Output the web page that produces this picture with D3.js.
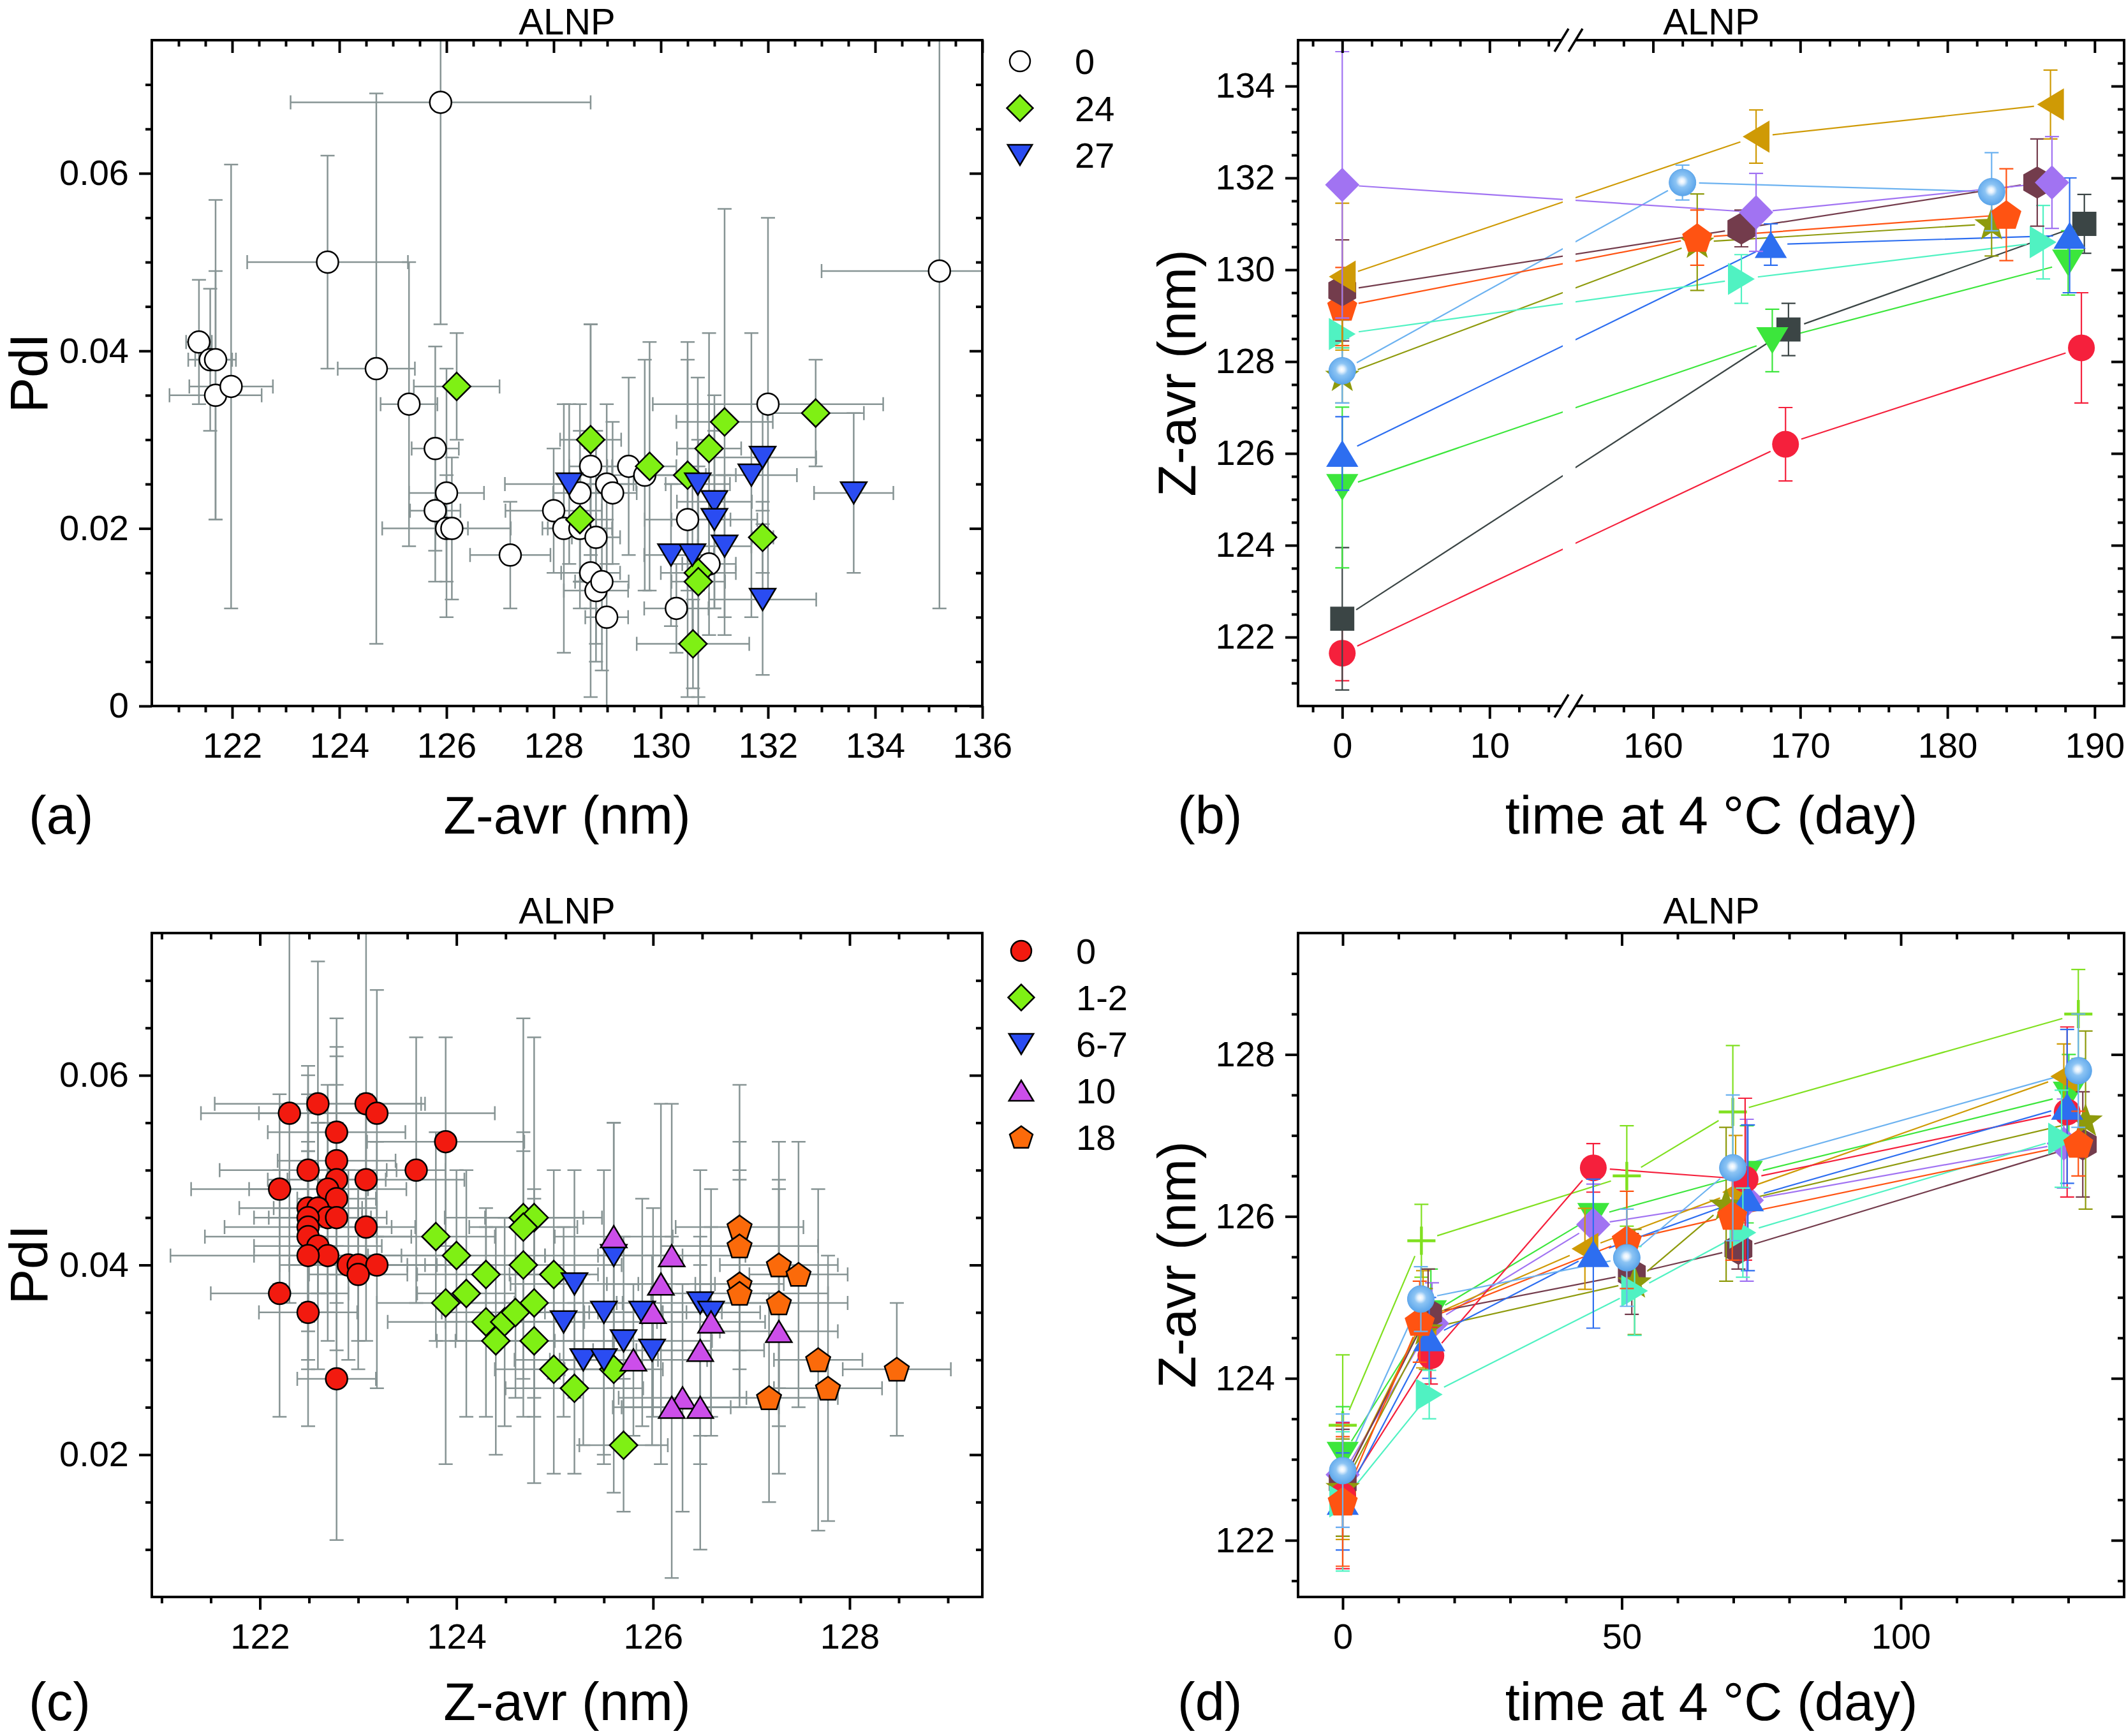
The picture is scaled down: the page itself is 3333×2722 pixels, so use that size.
<!DOCTYPE html>
<html><head><meta charset="utf-8">
<script src="https://cdnjs.cloudflare.com/ajax/libs/d3/7.8.5/d3.min.js"></script>
<style>body{margin:0;background:#fff}</style>
</head><body><script>
// ---------------- DATA ----------------
// Panel (a): [Z-avr, PdI, xErr, yErr]
const aLegend = ["0", "24", "27"];
const aWeek0 = [[121.38,0.041,0.24,0.007],[121.59,0.039,0.41,0.008],[121.69,0.039,0.38,0.018],[121.69,0.035,0.86,0.014],
[121.98,0.036,0.78,0.025],[123.78,0.050,1.50,0.012],[124.69,0.038,0.72,0.031],[125.89,0.068,2.80,0.025],[125.30,0.034,0.53,0.016],
[125.79,0.029,0.44,0.0115],[126.00,0.024,0.70,0.014],[125.79,0.022,0.47,0.008],[126.00,0.020,1.20,0.006],[126.10,0.020,0.30,0.008],
[127.19,0.017,0.75,0.006],[128.00,0.022,0.90,0.007],[128.19,0.020,0.40,0.014],[128.49,0.020,0.60,0.006],[128.49,0.024,0.50,0.010],
[128.69,0.027,0.40,0.016],[128.79,0.019,0.45,0.012],[128.69,0.015,0.55,0.014],[128.79,0.013,0.60,0.008],[128.90,0.014,0.50,0.010],
[128.99,0.010,0.40,0.011],[128.99,0.025,0.55,0.009],[129.10,0.024,0.45,0.008],[129.40,0.027,0.40,0.010],[129.70,0.026,1.20,0.013],
[130.29,0.011,0.60,0.005],[130.50,0.021,0.80,0.020],[130.90,0.016,0.50,0.008],[132.00,0.034,2.15,0.021],[135.20,0.049,2.20,0.038]];
const aWeek24 = [[126.19,0.036,0.80,0.006],[128.69,0.030,0.57,0.013],[128.49,0.021,0.30,0.010],[129.79,0.027,0.50,0.014],
[130.50,0.026,0.90,0.013],[130.90,0.029,0.60,0.013],[131.19,0.032,0.90,0.024],[132.89,0.033,0.90,0.006],[131.90,0.019,0.20,0.004],
[130.70,0.015,0.70,0.015],[130.70,0.014,0.50,0.013],[130.60,0.007,1.05,0.005]];
const aWeek27 = [[128.29,0.025,1.20,0.009],[130.69,0.025,0.60,0.012],[131.00,0.023,0.70,0.012],[131.00,0.021,0.80,0.010],
[131.19,0.018,0.50,0.008],[130.19,0.017,0.50,0.008],[130.59,0.017,0.40,0.010],[131.69,0.026,0.85,0.016],[131.90,0.028,1.00,0.006],
[133.60,0.024,0.74,0.009],[131.90,0.012,1.00,0.0085]];

// Panel (c): [Z-avr, PdI, xErr, yErr]
const cLegend = ["0", "1-2", "6-7", "10", "18"];
const cWeek0 = [[122.30,0.056,0.90,0.020],[122.59,0.057,1.05,0.015],[123.08,0.057,0.60,0.018],[123.19,0.056,1.20,0.013],
[122.78,0.054,0.70,0.012],[123.89,0.053,0.80,0.011],[122.78,0.051,0.60,0.012],[122.49,0.050,0.90,0.010],[123.59,0.050,0.30,0.014],
[122.20,0.048,0.90,0.010],[122.78,0.049,0.50,0.013],[123.08,0.049,1.00,0.009],[122.69,0.048,0.80,0.011],[122.78,0.047,0.40,0.008],
[122.49,0.046,0.70,0.012],[122.59,0.046,0.45,0.009],[122.69,0.045,0.60,0.010],[122.78,0.045,0.35,0.014],[122.49,0.045,0.55,0.016],
[122.49,0.044,0.85,0.008],[123.08,0.044,0.50,0.012],[122.49,0.043,1.05,0.010],[122.59,0.042,0.65,0.013],[122.69,0.041,0.75,0.009],
[122.49,0.041,1.40,0.011],[122.90,0.040,0.60,0.010],[123.00,0.040,0.80,0.008],[123.19,0.040,0.70,0.013],[123.00,0.039,0.50,0.010],
[122.20,0.037,0.70,0.013],[122.49,0.035,0.50,0.012],[122.78,0.028,0.40,0.017]];
const cWeek1_2 = [[123.79,0.043,0.60,0.011],[124.00,0.041,0.90,0.009],[124.30,0.039,0.70,0.007],[124.68,0.045,0.80,0.021],
[124.79,0.045,0.50,0.019],[124.68,0.044,0.55,0.010],[124.68,0.040,1.00,0.012],[124.99,0.039,0.45,0.011],[123.89,0.036,0.70,0.017],
[124.10,0.037,0.50,0.013],[124.79,0.036,0.90,0.012],[124.30,0.034,1.00,0.010],[124.49,0.034,0.60,0.011],[124.60,0.035,0.75,0.009],
[124.40,0.032,0.60,0.012],[124.79,0.032,0.80,0.015],[124.99,0.029,0.60,0.011],[125.20,0.027,0.70,0.009],[125.60,0.029,0.50,0.013],
[125.70,0.021,0.45,0.007]];
const cWeek6_7 = [[125.20,0.038,0.65,0.012],[125.60,0.041,0.70,0.014],[125.09,0.034,0.80,0.010],[125.50,0.035,0.60,0.015],
[125.89,0.035,0.45,0.012],[125.70,0.032,0.90,0.011],[125.29,0.030,0.70,0.009],[125.50,0.030,0.55,0.011],[125.99,0.031,0.60,0.010],
[126.48,0.036,0.85,0.014],[126.59,0.035,0.50,0.013]];
const cWeek10 = [[125.60,0.043,0.60,0.012],[126.19,0.041,0.75,0.016],[126.08,0.038,0.55,0.019],[126.00,0.035,0.70,0.011],
[126.59,0.034,0.55,0.010],[126.48,0.031,0.65,0.012],[125.80,0.030,0.75,0.008],[127.28,0.033,0.60,0.015],[126.30,0.026,0.65,0.012],
[126.19,0.025,0.60,0.018],[126.48,0.025,0.80,0.015]];
const cWeek18 = [[126.88,0.044,0.65,0.015],[126.88,0.042,0.80,0.011],[127.28,0.040,0.60,0.013],[127.48,0.039,0.50,0.014],
[126.88,0.038,0.45,0.012],[126.88,0.037,0.90,0.012],[127.28,0.036,0.70,0.013],[127.68,0.030,0.45,0.018],[128.48,0.029,0.55,0.007],
[127.78,0.027,0.55,0.014],[127.18,0.026,0.70,0.011]];

// Panel (b): per batch [day, Z-avr, err]
const bMarkers = ["circle","square","downTri","upTri","star","sphere","rightTri","pentagon","hexagon","leftTri","diamond"];
const bColors  = ["#f5203c","#3b4545","#3ce63c","#2d6ef0","#8e9a0c","#6cb2f0","#50f2c2","#ff5312","#733c4c","#cf9a05","#a173f2"];
const bData = [
 [[0,121.65,0.6],[169.0,126.2,0.8],[189.1,128.3,1.2]],
 [[0,122.4,1.55],[169.2,128.7,0.57],[189.3,131.0,0.64]],
 [[0,125.26,1.75],[168.1,128.46,0.68],[188.2,130.15,0.7]],
 [[0,126.0,0.8],[168.0,130.55,0.45],[188.3,130.75,1.25]],
 [[0,127.7,0.6],[163.0,130.6,1.05],[183.0,131.0,0.7]],
 [[0,127.8,0.7],[162.0,131.9,0.38],[183.0,131.7,0.85]],
 [[0,128.6,0.3],[166.0,129.8,0.53],[186.5,130.6,0.8]],
 [[0,129.2,0.85],[163.0,130.7,0.6],[184.0,131.2,1.0]],
 [[0,129.55,1.1],[166.0,130.9,0.4],[186.1,131.9,0.95]],
 [[0,129.85,1.6],[167.0,132.9,0.58],[187.0,133.6,0.75]],
 [[0,131.85,2.9],[167.0,131.25,0.85],[187.1,131.9,1.0]]
];
// Panel (d): per batch [day, Z-avr, err]
const dMarkers = ["plus","downTri","diamond","leftTri","hexagon","star","circle","upTri","rightTri","pentagon","sphere"];
const dColors  = ["#80e020","#3ce63c","#a173f2","#cf9a05","#733c4c","#8e9a0c","#f5203c","#2d6ef0","#50f2c2","#ff5312","#6cb2f0"];
const dData = [
 [[0,123.42,0.87],[14.1,125.7,0.45],[50.9,126.5,0.62],[69.9,127.29,0.82],[131.8,128.5,0.55]],
 [[0,123.05,0.6],[15.8,124.8,0.55],[44.9,126.0,0.5],[72.4,126.52,0.6],[130.1,127.5,0.5]],
 [[0,122.81,0.65],[16.0,124.68,0.5],[44.9,125.9,0.5],[72.4,126.2,1.0],[129.2,126.9,0.55]],
 [[0,122.71,0.7],[14.4,124.73,0.6],[43.4,125.6,0.5],[70.4,126.3,0.7],[129.2,127.73,0.4]],
 [[0,122.71,0.66],[15.3,124.8,0.55],[51.8,125.29,0.5],[70.9,125.6,0.25],[132.6,126.89,0.65]],
 [[0,122.65,0.6],[14.9,124.61,0.5],[52.3,125.19,0.65],[68.7,126.15,0.95],[133.1,127.19,1.1]],
 [[0,122.55,0.9],[15.8,124.28,0.35],[44.9,126.6,0.3],[72.1,126.46,1.0],[129.8,127.29,1.05]],
 [[0,122.48,0.6],[15.5,124.5,0.5],[44.9,125.54,0.92],[72.6,126.23,0.9],[129.8,127.36,0.95]],
 [[0,122.48,0.86],[15.5,123.8,0.3],[52.3,125.08,0.55],[71.7,125.8,0.55],[128.8,126.96,0.6]],
 [[0,122.48,0.8],[13.8,124.7,0.5],[50.9,125.71,0.6],[69.8,126.01,0.55],[131.8,126.9,0.4]],
 [[0,122.86,0.7],[14.0,124.98,0.4],[50.9,125.49,0.6],[69.9,126.6,0.9],[131.8,127.8,0.7]]
];
// tick labels
const aXTicks = [122,124,126,128,130,132,134,136];
const aYTicks = [0,0.02,0.04,0.06];
const bXTicks = [0,10,160,170,180,190];
const bYTicks = [122,124,126,128,130,132,134];
const cXTicks = [122,124,126,128];
const cYTicks = [0.02,0.04,0.06];
const dXTicks = [0,50,100];
const dYTicks = [122,124,126,128];

// ---------------- DRAWING ----------------
const FONT = '"Liberation Sans", Arial, Helvetica, sans-serif';
const W = 3333, H = 2722;
const svg = d3.select("body").append("svg").attr("width", W).attr("height", H).style("display","block");
svg.append("rect").attr("width", W).attr("height", H).attr("fill", "#fff");
const defs = svg.append("defs");
const grad = defs.append("radialGradient").attr("id","sph").attr("cx","48%").attr("cy","45%").attr("r","55%");
[["0%","#ffffff"],["18%","#e4f1fd"],["42%","#8cc4f4"],["100%","#5aa4ea"]].forEach(s=>grad.append("stop").attr("offset",s[0]).attr("stop-color",s[1]));

const PA = {x0:238, x1:1540, y0:63, y1:1107};
const PB = {x0:2035, x1:3330, y0:63, y1:1107};
const PC = {x0:238, x1:1540, y0:1463, y1:2504};
const PD = {x0:2035, x1:3330, y0:1463, y1:2504};

const xa = d3.scaleLinear().domain([120.5,136]).range([PA.x0,PA.x1]);
const ya = d3.scaleLinear().domain([0,0.075]).range([PA.y1,PA.y0]);
const BRK = 2460;
const xb = d3.scaleLinear().domain([-3,15.4,154.3,192]).range([PB.x0,BRK,BRK,PB.x1]);
const yb = d3.scaleLinear().domain([120.5,135]).range([PB.y1,PB.y0]);
const xc = d3.scaleLinear().domain([120.9,129.35]).range([PC.x0,PC.x1]);
const yc = d3.scaleLinear().domain([0.005,0.075]).range([PC.y1,PC.y0]);
const xd = d3.scaleLinear().domain([-8,140]).range([PD.x0,PD.x1]);
const yd = d3.scaleLinear().domain([121.3,129.5]).range([PD.y1,PD.y0]);

function symPath(type, s){
  const poly = (pts)=> "M" + pts.map(p=>p[0].toFixed(2)+","+p[1].toFixed(2)).join("L") + "Z";
  const w = s*1.2, h = s*1.0;
  switch(type){
    case "circle": case "sphere": return `M${-s},0A${s},${s} 0 1,0 ${s},0A${s},${s} 0 1,0 ${-s},0Z`;
    case "square": { const a = s*0.9; return poly([[-a,-a],[a,-a],[a,a],[-a,a]]); }
    case "diamond": { const a = s*1.28; return poly([[0,-a],[a,0],[0,a],[-a,0]]); }
    case "downTri": return poly([[-w,-h],[w,-h],[0,h]]);
    case "upTri": return poly([[-w,h],[w,h],[0,-h]]);
    case "leftTri": return poly([[h,-w],[h,w],[-h,0]]);
    case "rightTri": return poly([[-h,-w],[-h,w],[h,0]]);
    case "pentagon": { const r = s*1.18; return poly(d3.range(5).map(k=>{const a=(-90+72*k)*Math.PI/180; return [r*Math.cos(a), r*Math.sin(a)+s*0.1];})); }
    case "hexagon": { const r = s*1.2; return poly(d3.range(6).map(k=>{const a=(-90+60*k)*Math.PI/180; return [r*Math.cos(a), r*Math.sin(a)];})); }
    case "star": { const R = s*1.35, r = s*0.55; return poly(d3.range(10).map(k=>{const a=(-90+36*k)*Math.PI/180, rr = k%2?r:R; return [rr*Math.cos(a), rr*Math.sin(a)+s*0.08];})); }
    case "plus": { const a = s*1.05; return `M${-a},0H${a}M0,${-a}V${a}`; }
  }
}

function clip(id, P){
  defs.append("clipPath").attr("id",id).append("rect").attr("x",P.x0).attr("y",P.y0).attr("width",P.x1-P.x0).attr("height",P.y1-P.y0);
}
clip("ca",PA); clip("cb",PB); clip("cc",PC); clip("cd",PD);

function styleAxis(sel, labels){
  sel.attr("font-family", FONT).attr("font-size", 56);
  sel.select(".domain").remove();
  sel.selectAll(".tick line").attr("stroke","#000").attr("stroke-width",4);
  if(labels) sel.selectAll(".tick text").attr("fill","#000");
  else sel.selectAll(".tick text").remove();
}
function minorVals(lo, hi, step, majorStep){
  const out = [];
  const n0 = Math.ceil(lo/step - 1e-9), n1 = Math.floor(hi/step + 1e-9);
  for(let i=n0;i<=n1;i++){ const v = i*step; const r = v/majorStep; if(Math.abs(r-Math.round(r))>1e-6) out.push(+v.toFixed(6)); }
  return out;
}
function drawAxes(P, x, y, o){
  const g = svg.append("g");
  const add = (tr, ax, lab) => g.append("g").attr("transform", tr).call(ax).call(s=>styleAxis(s, lab));
  add(`translate(0,${P.y1})`, d3.axisBottom(x).tickValues(o.xMajor).tickSize(20).tickPadding(21).tickFormat(o.xFmt), true);
  add(`translate(0,${P.y1})`, d3.axisBottom(x).tickValues(o.xMinor).tickSize(10).tickFormat(""), false);
  add(`translate(0,${P.y0})`, d3.axisTop(x).tickValues(o.xMajor).tickSize(-20).tickFormat(""), false);
  add(`translate(0,${P.y0})`, d3.axisTop(x).tickValues(o.xMinor).tickSize(-10).tickFormat(""), false);
  add(`translate(${P.x0},0)`, d3.axisLeft(y).tickValues(o.yMajor).tickSize(20).tickPadding(16).tickFormat(o.yFmt), true);
  add(`translate(${P.x0},0)`, d3.axisLeft(y).tickValues(o.yMinor).tickSize(10).tickFormat(""), false);
  add(`translate(${P.x1},0)`, d3.axisRight(y).tickValues(o.yMajor).tickSize(-20).tickFormat(""), false);
  add(`translate(${P.x1},0)`, d3.axisRight(y).tickValues(o.yMinor).tickSize(-10).tickFormat(""), false);
  g.append("rect").attr("x",P.x0).attr("y",P.y0).attr("width",P.x1-P.x0).attr("height",P.y1-P.y0)
    .attr("fill","none").attr("stroke","#000").attr("stroke-width",4);
  return g;
}
function text(x, y, str, size, anchor, rot){
  const t = svg.append("text").attr("font-family",FONT).attr("font-size",size).attr("fill","#000")
    .attr("text-anchor",anchor||"middle").text(str);
  if(rot) t.attr("transform",`translate(${x},${y}) rotate(${rot})`);
  else t.attr("x",x).attr("y",y);
  return t;
}

// ---- scatter panels (a), (c)
const ERRC = "#879494";
const MS = 17;
function scatterPanel(P, x, y, clipId, series){
  const g = svg.append("g").attr("clip-path",`url(#${clipId})`);
  const c = 11;
  series.forEach(s=>{
    g.append("g").selectAll("path").data(s.data).join("path")
      .attr("d", d=>{
        const cx=x(d[0]), cy=y(d[1]), xl=x(d[0]-d[2]), xr=x(d[0]+d[2]), yt=y(d[1]+d[3]), yb_=y(d[1]-d[3]);
        return `M${xl},${cy}H${xr}M${xl},${cy-c}V${cy+c}M${xr},${cy-c}V${cy+c}M${cx},${yt}V${yb_}M${cx-c},${yt}H${cx+c}M${cx-c},${yb_}H${cx+c}`;
      })
      .attr("fill","none").attr("stroke",ERRC).attr("stroke-width",2.5);
  });
  series.forEach(s=>{
    g.append("g").selectAll("path").data(s.data).join("path")
      .attr("transform", d=>`translate(${x(d[0])},${y(d[1])})`)
      .attr("d", symPath(s.type, MS)).attr("fill", s.color).attr("stroke","#000").attr("stroke-width",2.5);
  });
}
const aSeries = [
  {type:"circle", color:"#ffffff", data:aWeek0},
  {type:"diamond", color:"#7ff014", data:aWeek24},
  {type:"downTri", color:"#2a4cf2", data:aWeek27}];
const cSeries = [
  {type:"circle", color:"#f21a0f", data:cWeek0},
  {type:"diamond", color:"#7ff014", data:cWeek1_2},
  {type:"downTri", color:"#2a4cf2", data:cWeek6_7},
  {type:"upTri", color:"#cc4eea", data:cWeek10},
  {type:"pentagon", color:"#fb6a0a", data:cWeek18}];
scatterPanel(PA, xa, ya, "ca", aSeries);
scatterPanel(PC, xc, yc, "cc", cSeries);

function legend(x0, y0, step, series, names){
  series.forEach((s,i)=>{
    const cy = y0 + i*step;
    svg.append("path").attr("transform",`translate(${x0},${cy})`).attr("d",symPath(s.type,16))
      .attr("fill",s.color).attr("stroke","#000").attr("stroke-width",2.5);
    text(x0+86, cy+20, names[i], 56, "start");
  });
}
legend(1599, 96, 73.5, aSeries, aLegend);
legend(1601, 1491, 73, cSeries, cLegend);

// ---- time panels (b), (d)
function timePanel(x, y, clipId, markers, colors, data, s, afterLines){
  const g = svg.append("g").attr("clip-path",`url(#${clipId})`);
  const gap = s + 5;
  data.forEach((ser,i)=>{
    const pts = ser.map(d=>[x(d[0]), y(d[1])]);
    let dstr = "";
    for(let k=0;k<pts.length-1;k++){
      const p=pts[k], q=pts[k+1], dx=q[0]-p[0], dy=q[1]-p[1], L=Math.hypot(dx,dy);
      if(L>2*gap){ const ux=dx/L, uy=dy/L;
        dstr += `M${p[0]+ux*gap},${p[1]+uy*gap}L${q[0]-ux*gap},${q[1]-uy*gap}`; }
    }
    g.append("path").attr("d",dstr).attr("fill","none").attr("stroke",colors[i]).attr("stroke-width",2.2);
  });
  if(afterLines) afterLines(g);
  const c = 11;
  data.forEach((ser,i)=>{
    g.append("g").selectAll("path").data(ser).join("path")
      .attr("d", d=>{ const cx=x(d[0]), yt=y(d[1]+d[2]), yb_=y(d[1]-d[2]);
        return `M${cx},${yt}V${yb_}M${cx-c},${yt}H${cx+c}M${cx-c},${yb_}H${cx+c}`; })
      .attr("fill","none").attr("stroke",colors[i]).attr("stroke-width",2.2);
    const m = markers[i];
    const sel = g.append("g").selectAll("path").data(ser).join("path")
      .attr("transform", d=>`translate(${x(d[0])},${y(d[1])})`).attr("d", symPath(m, s));
    if(m==="plus") sel.attr("fill","none").attr("stroke",colors[i]).attr("stroke-width",4.5);
    else if(m==="sphere") sel.attr("fill","url(#sph)").attr("stroke","#5aa4ea").attr("stroke-width",1);
    else sel.attr("fill",colors[i]).attr("stroke","none");
  });
}
timePanel(xb, yb, "cb", bMarkers, bColors, bData, 21, g=>{
  g.append("rect").attr("x",BRK-10).attr("y",PB.y0+3).attr("width",20).attr("height",PB.y1-PB.y0-6).attr("fill","#fff");
});
timePanel(xd, yd, "cd", dMarkers, dColors, dData, 21);

// ---- axes
const fmtPdI = v => v===0 ? "0" : d3.format(".2f")(v);
drawAxes(PA, xa, ya, {xMajor:aXTicks, xMinor:minorVals(120.6,135.9,0.5,2), xFmt:d3.format("d"),
  yMajor:aYTicks, yMinor:minorVals(0.001,0.074,0.005,0.02), yFmt:fmtPdI});
drawAxes(PC, xc, yc, {xMajor:cXTicks, xMinor:minorVals(121,129.3,0.5,2), xFmt:d3.format("d"),
  yMajor:cYTicks, yMinor:minorVals(0.006,0.074,0.005,0.02), yFmt:fmtPdI});
const bMinorX = [-2,2,4,6,8,12,14,156,158,162,164,166,168,172,174,176,178,182,184,186,188];
drawAxes(PB, xb, yb, {xMajor:bXTicks, xMinor:bMinorX, xFmt:d3.format("d"),
  yMajor:bYTicks, yMinor:minorVals(120.6,134.9,0.5,2), yFmt:d3.format("d")});
drawAxes(PD, xd, yd, {xMajor:dXTicks, xMinor:minorVals(-7,139,10,50), xFmt:d3.format("d"),
  yMajor:dYTicks, yMinor:minorVals(121.4,129.4,0.5,2), yFmt:d3.format("d")});

// axis break marks in (b)
[PB.y0, PB.y1].forEach(yy=>{
  svg.append("rect").attr("x",BRK-11).attr("y",yy-8).attr("width",22).attr("height",16).attr("fill","#fff");
  [[-22,0],[0,22]].forEach(o=>{
    svg.append("line").attr("x1",BRK+o[0]-1).attr("y1",yy+18).attr("x2",BRK+o[1]-1).attr("y2",yy-18)
      .attr("stroke","#000").attr("stroke-width",3.5);
  });
});

// ---- titles & labels
[[889,54],[2683,54],[889,1448],[2683,1448]].forEach(p=>text(p[0],p[1],"ALNP",58));
text(889,1307,"Z-avr (nm)",83);
text(2683,1307,"time at 4 °C (day)",83);
text(889,2697,"Z-avr (nm)",83);
text(2683,2697,"time at 4 °C (day)",83);
text(45,1307,"(a)",83,"start");
text(1846,1307,"(b)",83,"start");
text(45,2697,"(c)",83,"start");
text(1846,2697,"(d)",83,"start");
text(74,585,"PdI",83,"middle",-90);
text(1874,585,"Z-avr (nm)",83,"middle",-90);
text(74,1983,"PdI",83,"middle",-90);
text(1874,1983,"Z-avr (nm)",83,"middle",-90);
</script></body></html>
